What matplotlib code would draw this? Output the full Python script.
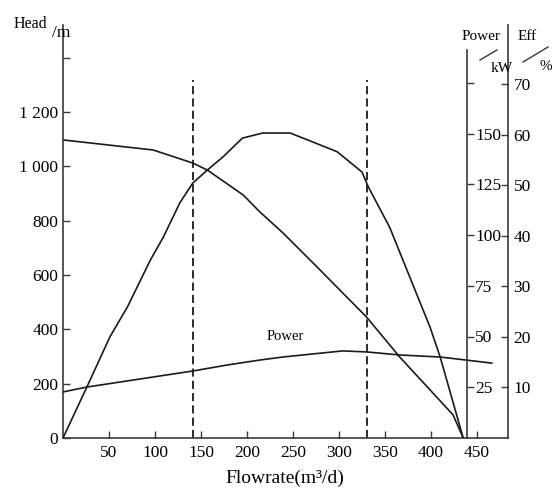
import matplotlib
matplotlib.use("Agg")
from matplotlib import pyplot as plt
from matplotlib.lines import Line2D

plt.rcParams['font.family'] = ['Liberation Serif', 'DejaVu Serif']

# curves (flowrate in m3/d)
head_q = [0, 98, 124, 141, 157, 196, 214, 239, 276, 304, 330, 366, 396, 424, 435]
head_m = [1097, 1060, 1031, 1012, 986, 894, 832, 755, 630, 534, 445, 298, 188, 85, 0]

eff_q = [0, 26, 51, 70, 95, 109, 127, 141, 157, 174, 195, 217, 247, 272, 298, 325, 332, 355, 377, 399, 410, 435]
eff_pct = [0, 10.1, 20.0, 25.9, 35.2, 39.7, 46.5, 50.4, 53.0, 55.6, 59.3, 60.3, 60.3, 58.5, 56.6, 52.6, 49.6, 41.7, 31.8, 21.9, 16.0, 0]

power_q = [0, 26, 141, 179, 214, 239, 304, 330, 366, 410, 466]
power_kw = [22.7, 25.1, 33.0, 36.0, 38.4, 39.9, 42.9, 42.4, 40.9, 39.9, 36.9]

# operating range limits
range_q = [141, 330]

x_ticks = [50, 100, 150, 200, 250, 300, 350, 400, 450]
head_ticks = [0, 200, 400, 600, 800, 1000, 1200, 1400]
head_labels = ['0', '200', '400', '600', '800', '1 000', '1 200', '']
power_ticks = [25, 50, 75, 100, 125, 150, 175]
power_labels = ['25', '50', '75', '100', '125', '150', '']
eff_ticks = [10, 20, 30, 40, 50, 60, 70]

W, H = 552, 493
fig = plt.figure(figsize=(W / 100, H / 100), dpi=100)
ax = fig.add_axes([63 / W, (H - 438) / H, (508 - 63) / W, (438 - 25) / H])

spine_col = '#3a3a3a'
line_col = '#1a1a1a'
tick_fs = 12.5

# head axis
ax.set_xlim(0, 483.7)
ax.set_ylim(0, 1520)
for s in ['top', 'right']:
    ax.spines[s].set_visible(False)
for s in ['left', 'bottom']:
    ax.spines[s].set_color(spine_col)
    ax.spines[s].set_linewidth(1.2)
ax.set_xticks(x_ticks)
ax.set_yticks(head_ticks)
ax.set_yticklabels(head_labels)
ax.tick_params(direction='in', length=5, width=1, color=spine_col, labelsize=tick_fs)
ax.tick_params(axis='x', pad=5)
ax.plot(head_q, head_m, color=line_col, lw=1.2)
for q in range_q:
    ax.axvline(q, ymin=0, ymax=0.867, color=line_col, lw=1.3, dashes=(4.5, 2.3))
ax.text(242, 372, 'Power', fontsize=10.5, ha='center', va='center')

# power axis
axp = ax.twinx()
axp.set_ylim(0, 413 / 2.03)
for s in ['top', 'left', 'bottom']:
    axp.spines[s].set_visible(False)
axp.spines['right'].set_position(('axes', (467 - 63) / (508 - 63)))
axp.spines['right'].set_bounds(0, (438 - 50) / 2.03)
axp.spines['right'].set_color(spine_col)
axp.spines['right'].set_linewidth(1.2)
axp.set_yticks(power_ticks)
axp.set_yticklabels(power_labels)
axp.tick_params(direction='out', length=5, width=1, color=spine_col, labelsize=tick_fs, pad=1)
axp.plot(power_q, power_kw, color=line_col, lw=1.2)

# efficiency axis
axe = ax.twinx()
axe.set_ylim(0, 413 / 5.057)
for s in ['top', 'left', 'bottom']:
    axe.spines[s].set_visible(False)
axe.spines['right'].set_color(spine_col)
axe.spines['right'].set_linewidth(1.2)
axe.set_yticks(eff_ticks)
axe.tick_params(direction='in', length=5, width=1, color=spine_col, labelsize=tick_fs, pad=4)
axe.plot(eff_q, eff_pct, color=line_col, lw=1.2)

# axis titles
fig.text(284.5 / W, 1 - 483 / H, 'Flowrate(m³/d)', fontsize=14, ha='center', va='baseline')
fig.text(14 / W, 1 - 28 / H, 'Head', fontsize=11.5, va='baseline')
fig.text(52 / W, 1 - 37 / H, '/m', fontsize=12.5, va='baseline')
fig.text(462 / W, 1 - 40 / H, 'Power', fontsize=11, va='baseline')
fig.text(518 / W, 1 - 40 / H, 'Eff', fontsize=11, va='baseline')
fig.text(491 / W, 1 - 72 / H, 'kW', fontsize=11, va='baseline')
fig.text(540 / W, 1 - 70 / H, '%', fontsize=11, va='baseline')
fig.add_artist(Line2D([480 / W, 497 / W], [1 - 60 / H, 1 - 50 / H], color=spine_col, lw=1))
fig.add_artist(Line2D([523 / W, 548 / W], [1 - 62 / H, 1 - 47 / H], color=spine_col, lw=1))

fig.savefig('out.png', dpi=100)
